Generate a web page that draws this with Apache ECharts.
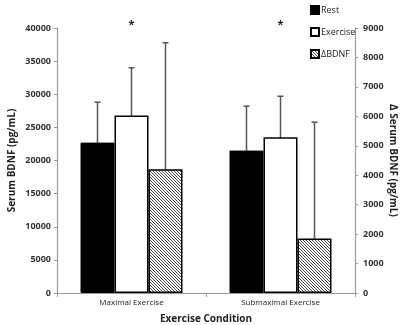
<!DOCTYPE html>
<html>
<head>
<meta charset="utf-8">
<script src="https://cdn.jsdelivr.net/npm/echarts@6/dist/echarts.min.js"></script>
<style>
  html, body { margin: 0; padding: 0; background: #fff; }
  #chart { width: 403px; height: 325px; }
</style>
</head>
<body>
<div id="chart"></div>
<script>
const categories = ["Maximal Exercise", "Submaximal Exercise"];
const restValues = [22700, 21500];
const restErrTop = [28800, 28200];
const exerciseValues = [26800, 23500];
const exerciseErrTop = [34000, 29700];
const deltaValues = [4200, 1850];
const deltaErrTop = [8500, 5800];
const starValues = [40500, 40500];
const leftTicks = [0, 5000, 10000, 15000, 20000, 25000, 30000, 35000, 40000];
const rightTicks = [0, 1000, 2000, 3000, 4000, 5000, 6000, 7000, 8000, 9000];

const FONT = "Open Sans";
const BAR_W = 34;

// hatch pattern for the delta bars
function makeHatch() {
  const c = document.createElement("canvas");
  c.width = 3;
  c.height = 3;
  const ctx = c.getContext("2d");
  ctx.fillStyle = "#fff";
  ctx.fillRect(0, 0, 3, 3);
  ctx.strokeStyle = "#333";
  ctx.lineWidth = 0.9;
  ctx.beginPath();
  ctx.moveTo(-1, -1); ctx.lineTo(4, 4);
  ctx.moveTo(-1, 2); ctx.lineTo(1, 4);
  ctx.moveTo(2, -1); ctx.lineTo(4, 1);
  ctx.stroke();
  return c;
}
const hatch = { image: makeHatch(), repeat: "repeat" };

function errorSeries(tops, axisIdx, offset) {
  return {
    type: "custom",
    yAxisIndex: axisIdx,
    silent: true,
    z: 1,
    data: tops.map((v, i) => [i, v]),
    renderItem: (params, api) => {
      const top = api.coord([api.value(0), api.value(1)]);
      const x = top[0] + offset;
      const y0 = top[1];
      const y1 = api.coord([api.value(0), 0])[1];
      const style = { stroke: "#555", lineWidth: 1.5 };
      return {
        type: "group",
        children: [
          { type: "line", shape: { x1: x, y1: y0, x2: x, y2: y1 }, style },
          { type: "line", shape: { x1: x - 3, y1: y0, x2: x + 3, y2: y0 }, style }
        ]
      };
    }
  };
}

const axisLabelStyle = { color: "#333", fontFamily: FONT, fontWeight: "bold", fontSize: 9 };
const axisNameStyle = { color: "#222", fontFamily: FONT, fontWeight: "bold", fontSize: 10 };

const chart = echarts.init(document.getElementById("chart"));
chart.setOption({
  animation: false,
  grid: { left: 57, right: 48, top: 28, bottom: 32, outerBoundsMode: "none", containLabel: false },
  legend: {
    orient: "vertical",
    left: 305,
    top: 0,
    itemWidth: 8,
    itemHeight: 8,
    itemGap: 12,
    icon: "rect",
    selectedMode: false,
    textStyle: { color: "#222", fontFamily: FONT, fontSize: 9, padding: [0, 0, 0, -3] },
    data: ["Rest", "Exercise", "ΔBDNF"]
  },
  xAxis: {
    type: "category",
    data: categories,
    name: "Exercise Condition",
    nameLocation: "middle",
    nameGap: 21,
    nameMoveOverlap: false,
    nameTextStyle: axisNameStyle,
    axisLine: { lineStyle: { color: "#999", width: 1 } },
    axisTick: { show: true, length: 4, lineStyle: { color: "#999" } },
    axisLabel: { color: "#222", fontFamily: FONT, fontSize: 8, margin: 6 }
  },
  yAxis: [
    {
      type: "value",
      min: 0,
      max: 40000,
      interval: 5000,
      name: "Serum BDNF (pg/mL)",
      nameLocation: "middle",
      nameGap: 40,
      nameMoveOverlap: false,
      nameTextStyle: axisNameStyle,
      axisLine: { show: true, lineStyle: { color: "#999", width: 1.2 } },
      axisTick: { show: true, length: 3, lineStyle: { color: "#999" } },
      splitLine: { show: false },
      axisLabel: Object.assign({ margin: 6, formatter: v => leftTicks.includes(v) ? String(v) : "" }, axisLabelStyle)
    },
    {
      type: "value",
      min: 0,
      max: 9000,
      interval: 1000,
      position: "right",
      name: "Δ Serum BDNF (pg/mL)",
      nameLocation: "middle",
      nameRotate: -90,
      nameGap: 33,
      nameMoveOverlap: false,
      nameTextStyle: axisNameStyle,
      axisLine: { show: true, lineStyle: { color: "#999", width: 1.2 } },
      axisTick: { show: true, length: 3, lineStyle: { color: "#999" } },
      splitLine: { show: false },
      axisLabel: Object.assign({ margin: 8, formatter: v => rightTicks.includes(v) ? String(v) : "" }, axisLabelStyle)
    }
  ],
  series: [
    errorSeries(restErrTop, 0, -BAR_W),
    errorSeries(exerciseErrTop, 0, 0),
    errorSeries(deltaErrTop, 1, BAR_W),
    {
      name: "Rest",
      type: "bar",
      barWidth: BAR_W,
      barGap: 0,
      z: 2,
      data: restValues,
      itemStyle: { color: "#000", borderColor: "#000", borderWidth: 1 }
    },
    {
      name: "Exercise",
      type: "bar",
      barWidth: BAR_W,
      barGap: 0,
      z: 2,
      data: exerciseValues,
      itemStyle: { color: "#fff", borderColor: "#000", borderWidth: 1.5 }
    },
    {
      name: "ΔBDNF",
      type: "bar",
      yAxisIndex: 1,
      barWidth: BAR_W,
      barGap: 0,
      z: 2,
      data: deltaValues,
      itemStyle: { color: hatch, borderColor: "#000", borderWidth: 1.5 }
    },
    {
      type: "custom",
      silent: true,
      data: starValues.map((v, i) => [i, v]),
      renderItem: (params, api) => {
        const p = api.coord([api.value(0), api.value(1)]);
        return {
          type: "text",
          x: p[0],
          y: p[1],
          style: { text: "*", fill: "#222", font: "bold 11px " + FONT, align: "center", verticalAlign: "middle" }
        };
      }
    }
  ]
});
</script>
</body>
</html>
